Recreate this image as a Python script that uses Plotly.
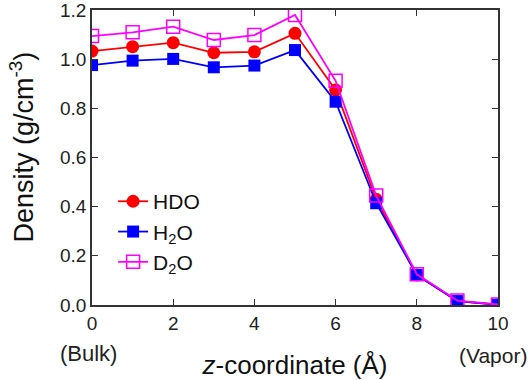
import plotly.graph_objects as go

z = [0, 1, 2, 3, 4, 5, 6, 7, 8, 9, 10]
hdo = [1.033, 1.051, 1.067, 1.026, 1.030, 1.105, 0.875, 0.430, 0.122, 0.016, 0.001]
h2o = [0.976, 0.994, 1.001, 0.967, 0.974, 1.037, 0.827, 0.414, 0.122, 0.016, 0.001]
d2o = [1.094, 1.109, 1.132, 1.078, 1.098, 1.180, 0.912, 0.445, 0.125, 0.018, 0.002]

xticks = [0, 2, 4, 6, 8, 10]
yticks = [0.0, 0.2, 0.4, 0.6, 0.8, 1.0, 1.2]

font = "Liberation Sans, Arial, sans-serif"

fig = go.Figure()
fig.add_trace(go.Scatter(x=z, y=hdo, name="HDO", mode="lines+markers",
                         line=dict(color="#ff0000", width=1.8),
                         marker=dict(symbol="circle", size=13, color="#ff0000")))
fig.add_trace(go.Scatter(x=z, y=h2o, name="H<sub>2</sub>O", mode="lines+markers",
                         line=dict(color="#0000ff", width=1.8),
                         marker=dict(symbol="square", size=12, color="#0000ff")))
fig.add_trace(go.Scatter(x=z, y=d2o, name="D<sub>2</sub>O", mode="lines+markers",
                         line=dict(color="#ff00ff", width=1.8),
                         marker=dict(symbol="square-open", size=13, color="#ff00ff",
                                     line=dict(width=1.5))))

axis_common = dict(showgrid=False, zeroline=False, showline=True, linecolor="#333333",
                   linewidth=1.5, mirror="ticks", ticks="inside", ticklen=6,
                   tickwidth=1.2, tickcolor="#333333", automargin=False,
                   ticklabeloverflow="allow",
                   tickfont=dict(family=font, size=19, color="#222222"))

fig.update_xaxes(range=[0, 10], tickvals=xticks, ticktext=[str(v) for v in xticks],
                 title=dict(text="<i>z</i>-coordinate (Å)", font=dict(family=font, size=26, color="#111111"),
                            standoff=23),
                 **axis_common)
fig.update_yaxes(range=[0, 1.2], tickvals=yticks, ticktext=[f"{v:.1f}" for v in yticks],
                 **axis_common)

fig.add_annotation(text="Density (g/cm<sup>-3</sup>)", x=0, y=0.534, xref="paper", yref="paper",
                   xanchor="center", yanchor="middle", textangle=-90, showarrow=False, xshift=-70,
                   font=dict(family=font, size=27, color="#111111"))
fig.add_annotation(text="(Bulk)", x=0, y=-0.163, xref="paper", yref="paper", xanchor="center",
                   yanchor="middle", showarrow=False, xshift=-4,
                   font=dict(family=font, size=22, color="#222222"))
fig.add_annotation(text="(Vapor)", x=1, y=-0.17, xref="paper", yref="paper", xanchor="right",
                   yanchor="middle", showarrow=False, xshift=31,
                   font=dict(family=font, size=21, color="#222222"))

fig.update_layout(
    width=532, height=380,
    margin=dict(l=92, r=34, t=10, b=75),
    plot_bgcolor="white", paper_bgcolor="white",
    showlegend=True,
    legend=dict(x=0.052, y=0.42, xanchor="left", yanchor="top",
                font=dict(family=font, size=21, color="#111111"),
                bgcolor="rgba(0,0,0,0)", tracegroupgap=0, itemwidth=30),
)

fig.write_html("out.html")
